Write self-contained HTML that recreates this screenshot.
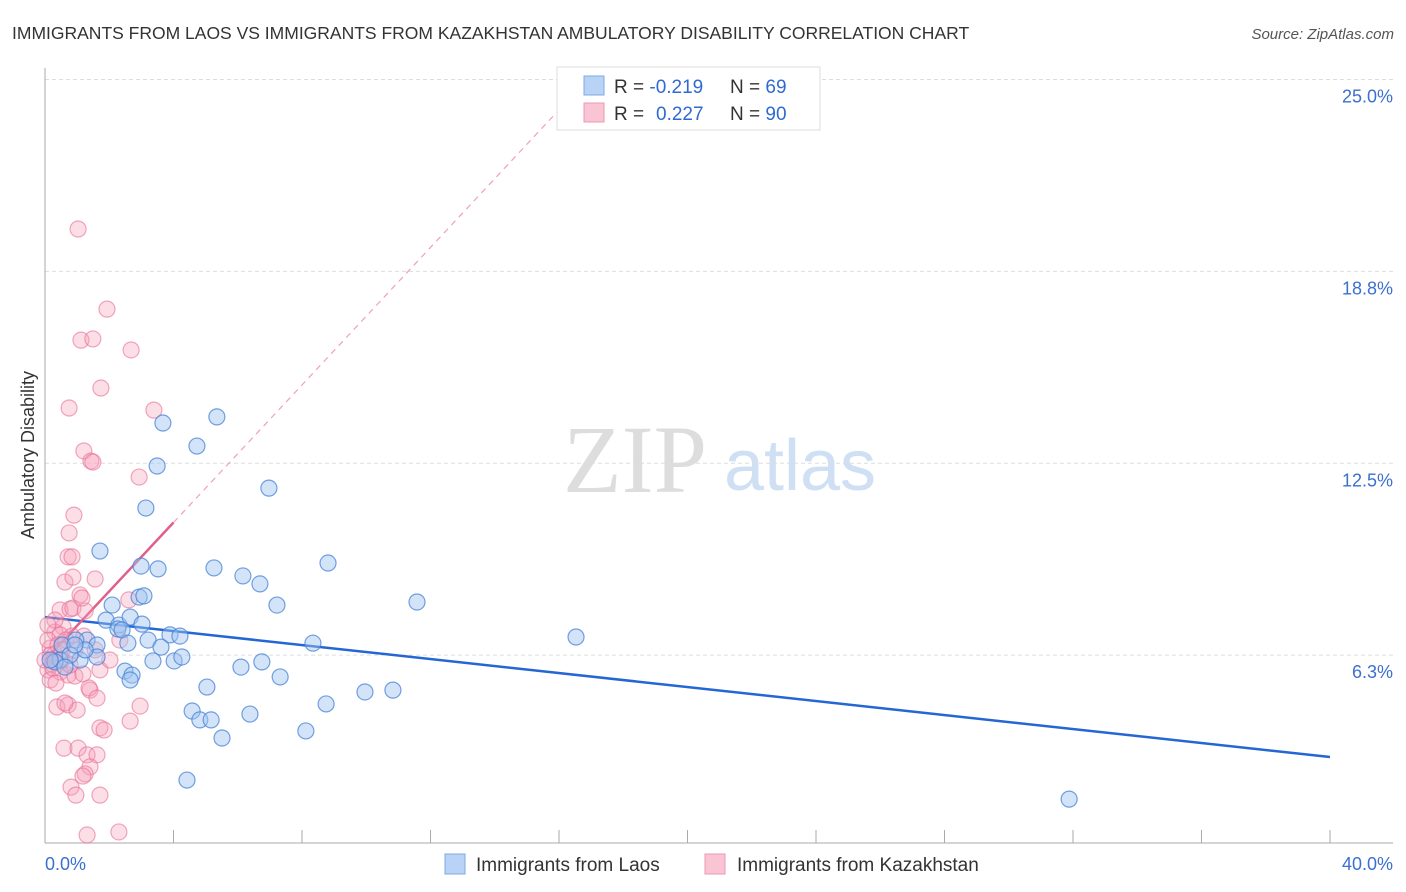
<!DOCTYPE html>
<html><head><meta charset="utf-8"><style>
body{margin:0;background:#fff;width:1406px;height:892px;overflow:hidden;font-family:"Liberation Sans",sans-serif}
svg{display:block}
</style></head><body>
<svg id="chart" width="1406" height="892">
<text x="12" y="39" font-size="17.5" fill="#333">IMMIGRANTS FROM LAOS VS IMMIGRANTS FROM KAZAKHSTAN AMBULATORY DISABILITY CORRELATION CHART</text>
<text x="1394" y="39" font-size="15" fill="#555" font-style="italic" text-anchor="end">Source: ZipAtlas.com</text>
<text x="34" y="455" font-size="18" fill="#333" text-anchor="middle" transform="rotate(-90 34 455)">Ambulatory Disability</text>
<g><text x="635" y="492" font-size="96" fill="#ddd" font-family="Liberation Serif, serif" text-anchor="middle">ZIP</text><text x="800" y="490" font-size="72" fill="#cfe0f4" text-anchor="middle">atlas</text></g>
<g id="grid"></g><g id="axes"></g><g id="lines"></g><g id="pts"></g>
<g>
<rect x="557" y="67" width="263" height="63" fill="#fff" stroke="#ddd"/>
<rect x="584" y="76" width="20" height="19" fill="#b8d3f5" stroke="#7fa8e6"/>
<rect x="584" y="103" width="20" height="19" fill="#f9c5d4" stroke="#eb98b2"/>
<text x="614" y="93" font-size="19" fill="#333">R = <tspan fill="#2f6ad0">-0.219</tspan><tspan x="730">N = </tspan><tspan fill="#2f6ad0">69</tspan></text>
<text x="614" y="120" font-size="19" fill="#333">R = <tspan x="656" fill="#2f6ad0">0.227</tspan><tspan x="730">N = </tspan><tspan fill="#2f6ad0">90</tspan></text>
</g>
<g>
<rect x="445" y="854" width="20" height="20" fill="#b8d3f5" stroke="#7fa8e6"/>
<text x="476" y="871" font-size="19" fill="#333">Immigrants from Laos</text>
<rect x="705" y="854" width="20" height="20" fill="#f9c5d4" stroke="#eb98b2"/>
<text x="737" y="871" font-size="19" fill="#333">Immigrants from Kazakhstan</text>
</g>
</svg>
<script>
const yTicks=[25,18.75,12.5,6.25];
const yTickLabels=["25.0%","18.8%","12.5%","6.3%"];
const xTickLabels=["0.0%","40.0%"];
const laosX=[3.67,5.35,4.73,3.49,3.14,6.97,1.71,2.99,3.52,5.26,6.16,6.69,8.81,11.58,7.22,2.93,3.08,2.09,16.53,8.34,1.90,2.30,2.65,3.02,2.27,2.40,3.21,2.58,3.89,4.20,3.61,1.31,1.62,0.96,0.53,1.09,1.62,3.36,4.02,4.26,6.10,6.75,2.49,2.71,2.65,7.32,5.04,9.96,10.83,8.75,4.58,4.82,5.17,6.38,5.51,8.12,4.42,31.88,0.47,0.31,0.78,1.25,0.62,0.16,0.93];
const laosY=[13.81,14.01,13.06,12.41,11.04,11.69,9.64,9.15,9.06,9.09,8.83,8.57,9.25,7.98,7.88,8.14,8.18,7.88,6.84,6.64,7.39,7.23,7.49,7.26,7.10,7.07,6.74,6.64,6.91,6.87,6.51,6.74,6.58,6.74,6.58,6.09,6.19,6.06,6.06,6.19,5.86,6.03,5.73,5.60,5.44,5.54,5.21,5.05,5.11,4.66,4.43,4.14,4.14,4.33,3.55,3.78,2.18,1.56,6.09,6.03,6.25,6.42,5.86,6.09,6.58];
const kazX=[1.03,1.93,1.12,1.49,2.68,1.74,0.75,3.39,1.21,1.43,1.49,2.93,0.90,0.75,0.72,0.84,1.56,0.62,0.87,1.09,2.61,0.47,0.78,0.87,1.25,1.15,0.56,0.31,0.47,0.84,1.21,0.16,0.31,0.53,0.22,0.09,0.47,0.72,0.93,1.18,0.16,0.34,1.40,1.37,1.62,0.37,0.72,1.00,0.62,2.96,2.65,1.71,1.84,0.59,1.03,1.31,1.62,1.40,1.25,1.18,0.81,0.96,1.71,1.31,2.30,0.31,0.09,0.16,0.40,0.65,0.93,0.25,0.53,0.78,0,0.09,1.71,2.02,1.56,2.33];
const kazY=[20.13,17.52,16.51,16.55,16.19,14.95,14.30,14.23,12.90,12.57,12.54,12.05,10.81,10.23,9.45,9.45,8.73,8.63,8.79,8.21,8.05,7.72,7.75,7.78,7.69,8.11,7.17,7.00,6.91,6.87,6.87,6.48,6.29,6.09,5.96,5.77,5.70,5.60,5.57,5.64,5.44,5.34,5.11,5.18,4.85,4.56,4.63,4.46,4.69,4.59,4.10,3.88,3.81,3.22,3.22,3.00,3.00,2.61,2.38,2.31,1.95,1.69,1.69,0.39,0.49,7.39,6.74,6.25,6.58,6.74,6.42,5.83,6.42,5.93,6.09,7.23,5.77,6.09,6.42,6.74];
const laosTrend=[7.49,2.93];   // y at x=0 and x=40
const kazTrend=[6.09,1.12];    // intercept, slope
const NS="http://www.w3.org/2000/svg";
const X0=45,X1=1330,Ybase=847,YPX=30.7;
function sx(v){return X0+v/40*(X1-X0);}
function sy(v){return Ybase-v*YPX;}
function mk(t,a,p){const e=document.createElementNS(NS,t);for(const k in a)e.setAttribute(k,a[k]);p.appendChild(e);return e;}
const grid=document.getElementById('grid');
yTicks.forEach((t,i)=>{
 const l=mk('line',{x1:45,x2:1393,y1:sy(t),y2:sy(t),stroke:'#ddd','stroke-dasharray':'4,3'},grid);
 
 
 const tx=mk('text',{x:1393,y:sy(t)+23,'font-size':18,fill:'#3b70d0','text-anchor':'end'},grid);
 tx.textContent=yTickLabels[i];
 
 
});
const axes=document.getElementById('axes');
mk('line',{x1:45,x2:45,y1:68,y2:843,stroke:'#aaa'},axes);
mk('line',{x1:45,x2:1393,y1:843,y2:843,stroke:'#aaa'},axes);
for(let v=4;v<=40;v+=4){const t=mk('line',{x1:sx(v),x2:sx(v),y1:830,y2:843,stroke:'#aaa'},axes);
 
 }
[[0,'start',45],[40,'end',1393]].forEach((d,i)=>{const t=mk('text',{x:d[2],y:870,'font-size':18,fill:'#3b70d0','text-anchor':d[1]},axes);
 t.textContent=xTickLabels[i];
 
 });
const pts=document.getElementById('pts');
kazX.forEach((x,i)=>{const c=mk('circle',{cx:sx(x),cy:sy(kazY[i]),r:8,fill:'rgba(246,160,186,0.35)',stroke:'rgba(232,110,150,0.6)','stroke-width':1.2},pts);
 
 });
laosX.forEach((x,i)=>{const c=mk('circle',{cx:sx(x),cy:sy(laosY[i]),r:8,fill:'rgba(160,196,240,0.45)',stroke:'rgba(70,130,215,0.75)','stroke-width':1.2},pts);
 
 });
const lines=document.getElementById('lines');
const bl=mk('line',{x1:sx(0),y1:sy(laosTrend[0]),x2:sx(40),y2:sy(laosTrend[1]),stroke:'#2466d4','stroke-width':2.5},lines);


const xe=(25-kazTrend[0])/kazTrend[1];
const pd=mk('line',{x1:sx(4),y1:sy(kazTrend[0]+4*kazTrend[1]),x2:sx(xe),y2:sy(25),stroke:'#f0a0b8','stroke-width':1.2,'stroke-dasharray':'6,5'},lines);


const ps=mk('line',{x1:sx(0),y1:sy(kazTrend[0]),x2:sx(4),y2:sy(kazTrend[0]+4*kazTrend[1]),stroke:'#e0608a','stroke-width':2.5},lines);


</script>
</body></html>
